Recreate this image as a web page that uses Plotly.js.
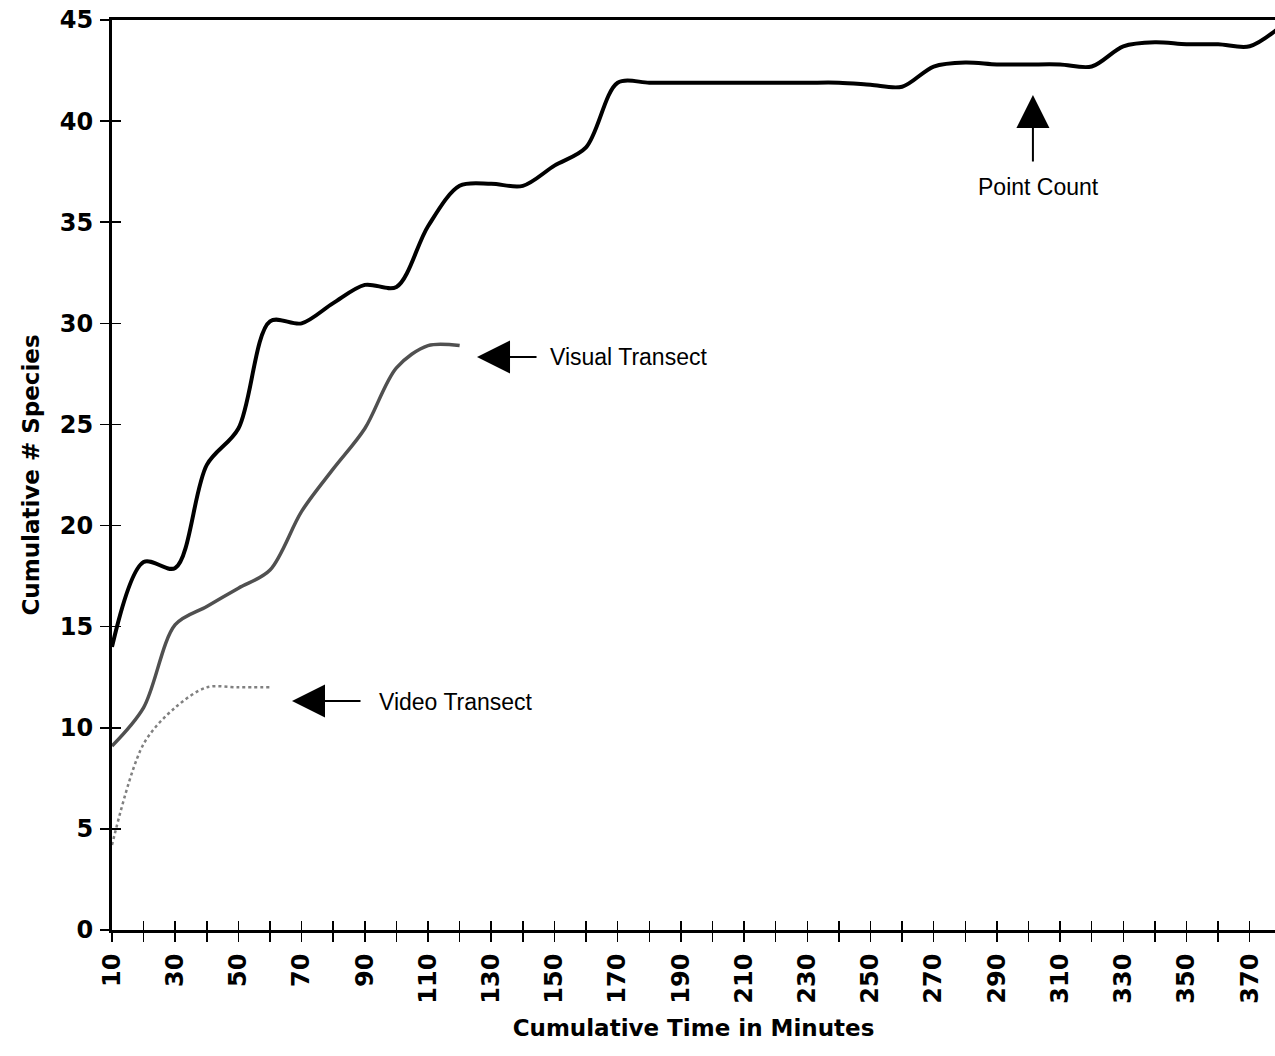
<!DOCTYPE html>
<html>
<head>
<meta charset="utf-8">
<script src="https://cdn.plot.ly/plotly-3.0.1.min.js"></script>
<style>
  html, body { margin: 0; padding: 0; background: #fff; }
  #chart { width: 1275px; height: 1056px; }
</style>
</head>
<body>
<div id="chart"></div>
<script>
// ---- Data ----
const pointCountTime = [10, 20, 30, 40, 50, 60, 70, 80, 90, 100, 110, 120, 130, 140, 150, 160, 170, 180, 190, 200, 210, 220, 230, 240, 250, 260, 270, 280, 290, 300, 310, 320, 330, 340, 350, 360, 370, 380];
const pointCountSpecies = [14.0, 18.2, 17.9, 23.0, 24.8, 30.1, 30.0, 31.0, 31.9, 31.8, 34.8, 36.8, 36.9, 36.8, 37.8, 38.7, 41.9, 41.9, 41.9, 41.9, 41.9, 41.9, 41.9, 41.9, 41.8, 41.7, 42.7, 42.9, 42.8, 42.8, 42.8, 42.7, 43.7, 43.9, 43.8, 43.8, 43.7, 44.7];

const visualTime = [10, 20, 30, 40, 50, 60, 70, 80, 90, 100, 110, 120];
const visualSpecies = [9.1, 11.0, 15.1, 16.0, 16.9, 17.8, 20.7, 22.8, 24.8, 27.8, 28.9, 28.9];

const videoTime = [10, 20, 30, 40, 50, 60];
const videoSpecies = [4.2, 9.2, 11.0, 12.0, 12.0, 12.0];

const xTickVals = [10, 20, 30, 40, 50, 60, 70, 80, 90, 100, 110, 120, 130, 140, 150, 160, 170, 180, 190, 200, 210, 220, 230, 240, 250, 260, 270, 280, 290, 300, 310, 320, 330, 340, 350, 360, 370];
const xTickLabels = ['10', '', '30', '', '50', '', '70', '', '90', '', '110', '', '130', '', '150', '', '170', '', '190', '', '210', '', '230', '', '250', '', '270', '', '290', '', '310', '', '330', '', '350', '', '370'];
const yTickVals = [0, 5, 10, 15, 20, 25, 30, 35, 40, 45];
const yTickLabels = ['0', '5', '10', '15', '20', '25', '30', '35', '40', '45'];

const labelPointCount = 'Point Count';
const labelVisual = 'Visual Transect';
const labelVideo = 'Video Transect';

// ---- Chart ----
const xRange = [10, 378];
const yRange = [0, 45];
const tickFont = { family: 'DejaVu Sans, Arial, sans-serif', size: 24, color: '#000', weight: 'bold' };
const titleFont = { family: 'DejaVu Sans, Arial, sans-serif', size: 23, color: '#000', weight: 'bold' };
const annFont = { family: 'Liberation Sans, Arial, sans-serif', size: 23, color: '#000' };

const traces = [
  { x: pointCountTime, y: pointCountSpecies, type: 'scatter', mode: 'lines', name: labelPointCount,
    line: { color: '#000', width: 4, shape: 'spline', smoothing: 0.9 } },
  { x: visualTime, y: visualSpecies, type: 'scatter', mode: 'lines', name: labelVisual,
    line: { color: '#505050', width: 3.5, shape: 'spline', smoothing: 0.9 } },
  { x: videoTime, y: videoSpecies, type: 'scatter', mode: 'lines', name: labelVideo,
    line: { color: '#808080', width: 2.5, shape: 'spline', smoothing: 0.9, dash: 'dot' } },
  // empty trace so the overlay axes (inner half of the crossing ticks) get drawn
  { x: [], y: [], type: 'scatter', mode: 'lines', xaxis: 'x2', yaxis: 'y2', hoverinfo: 'skip', showlegend: false }
];

const layout = {
  width: 1275, height: 1056,
  margin: { l: 112, r: 0, t: 20, b: 126, pad: 0 },
  paper_bgcolor: '#fff', plot_bgcolor: '#fff',
  showlegend: false,
  xaxis: {
    range: xRange, showgrid: false, zeroline: false,
    showline: true, linecolor: '#000', linewidth: 3, mirror: true,
    tickmode: 'array', tickvals: xTickVals, ticktext: xTickLabels,
    ticks: 'outside', ticklen: 9, tickwidth: 1.5, tickcolor: '#000',
    tickangle: -90, tickfont: tickFont, ticklabelstandoff: 2,
    title: { text: 'Cumulative Time in Minutes', font: titleFont, standoff: 18 }
  },
  xaxis2: {
    range: xRange, overlaying: 'x', anchor: 'y2', side: 'bottom',
    showgrid: false, zeroline: false, showline: false, showticklabels: false,
    tickmode: 'array', tickvals: xTickVals,
    ticks: 'inside', ticklen: 9, tickwidth: 1.5, tickcolor: '#000'
  },
  yaxis: {
    range: yRange, showgrid: false, zeroline: false,
    showline: true, linecolor: '#000', linewidth: 3,
    tickmode: 'array', tickvals: yTickVals, ticktext: yTickLabels,
    ticks: 'outside', ticklen: 9, tickwidth: 1.5, tickcolor: '#000',
    tickfont: tickFont, ticklabelstandoff: 2,
    title: { text: 'Cumulative # Species', font: titleFont, standoff: 14 }
  },
  yaxis2: {
    range: yRange, overlaying: 'y', anchor: 'x2', side: 'left',
    showgrid: false, zeroline: false, showline: false, showticklabels: false,
    tickmode: 'array', tickvals: yTickVals,
    ticks: 'inside', ticklen: 9, tickwidth: 1.5, tickcolor: '#000'
  },
  annotations: [
    // arrows
    { x: 125.5, y: 28.34, xref: 'x', yref: 'y', text: '', showarrow: true,
      ax: 61, ay: 0, arrowhead: 2, arrowsize: 3.3, arrowwidth: 2, arrowcolor: '#000' },
    { x: 66.96, y: 11.32, xref: 'x', yref: 'y', text: '', showarrow: true,
      ax: 70, ay: 0, arrowhead: 2, arrowsize: 3.3, arrowwidth: 2, arrowcolor: '#000' },
    { x: 301.4, y: 41.29, xref: 'x', yref: 'y', text: '', showarrow: true,
      ax: 0, ay: 68, arrowhead: 2, arrowsize: 3.3, arrowwidth: 2, arrowcolor: '#000' },
    // labels
    { x: 148.0, y: 28.34, xref: 'x', yref: 'y', text: labelVisual, showarrow: false,
      xanchor: 'left', yanchor: 'middle', font: annFont },
    { x: 93.85, y: 11.27, xref: 'x', yref: 'y', text: labelVideo, showarrow: false,
      xanchor: 'left', yanchor: 'middle', font: annFont },
    { x: 303.3, y: 36.74, xref: 'x', yref: 'y', text: labelPointCount, showarrow: false,
      xanchor: 'center', yanchor: 'middle', font: annFont }
  ]
};

Plotly.newPlot('chart', traces, layout, { displayModeBar: false, staticPlot: true });
</script>
</body>
</html>
